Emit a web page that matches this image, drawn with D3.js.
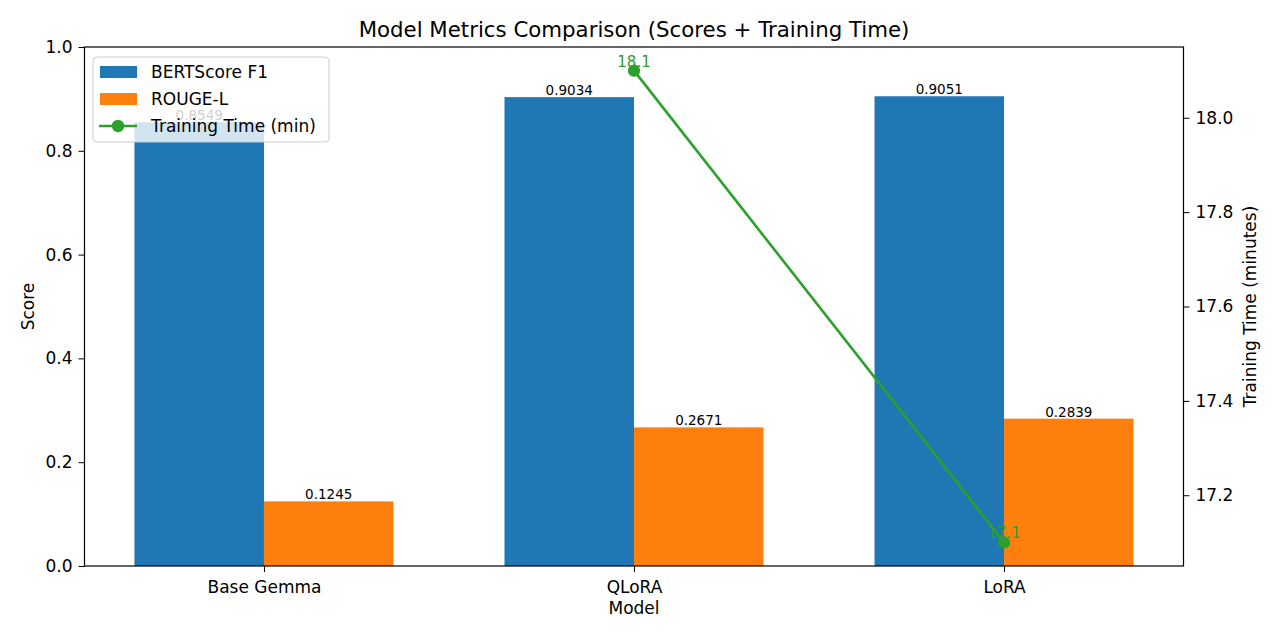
<!DOCTYPE html>
<html>
<head>
<meta charset="utf-8">
<script src="https://cdn.jsdelivr.net/npm/d3@7"></script>
<style>
  body { margin: 0; background: #fff; }
  svg { font-family: "DejaVu Sans", sans-serif; }
  .tick text { font-family: "DejaVu Sans", sans-serif; font-size: 17px; fill: #000; }
  .tick line { stroke: #000; }
  .domain { stroke: none; }
</style>
</head>
<body>
<div id="chart"></div>
<script>
// values
const models = ['Base Gemma', 'QLoRA', 'LoRA']
const bertScore = [0.8549, 0.9034, 0.9051]
const rougeL = [0.1245, 0.2671, 0.2839]
const trainingTime = [null, 18.1, 17.1]
const scoreTicks = [0.0, 0.2, 0.4, 0.6, 0.8, 1.0]
const timeTicks = [17.2, 17.4, 17.6, 17.8, 18.0]

const width = 1280, height = 640
const plotL = 84.5, plotR = 1183.5, plotT = 47, plotB = 566
const barW = 0.35

const blue = '#1f77b4', orange = '#ff7f0e', green = '#2ca02c'

const svg = d3.select('#chart').append('svg')
    .attr('width', width)
    .attr('height', height)

// x is numeric like matplotlib: category index, 5% margin around the bars
const x = d3.scaleLinear()
    .domain([-barW - 0.135, models.length - 1 + barW + 0.135])
    .range([plotL, plotR])

const y = d3.scaleLinear().domain([0, 1]).range([plotB, plotT])

const y2 = d3.scaleLinear().domain([17.05, 18.15]).range([plotB, plotT])

const bars = svg.append('g')

bars.selectAll('.bert')
    .data(bertScore)
    .enter()
    .append('rect')
    .attr('x', (d, i) => x(i - barW))
    .attr('y', d => y(d))
    .attr('width', x(barW) - x(0))
    .attr('height', d => y(0) - y(d))
    .attr('fill', blue)

bars.selectAll('.rouge')
    .data(rougeL)
    .enter()
    .append('rect')
    .attr('x', (d, i) => x(i))
    .attr('y', d => y(d))
    .attr('width', x(barW) - x(0))
    .attr('height', d => y(0) - y(d))
    .attr('fill', orange)

// bar value labels
const labels = svg.append('g')
    .attr('font-size', 13.5)
    .attr('text-anchor', 'middle')

labels.selectAll('.bl')
    .data(bertScore)
    .enter()
    .append('text')
    .attr('x', (d, i) => x(i - barW / 2))
    .attr('y', d => y(d) - 2)
    .text(d => d.toFixed(4))

labels.selectAll('.rl')
    .data(rougeL)
    .enter()
    .append('text')
    .attr('x', (d, i) => x(i + barW / 2))
    .attr('y', d => y(d) - 2)
    .text(d => d.toFixed(4))

// training time line on the twin axis
const pts = trainingTime.map((v, i) => ({ i, v })).filter(d => d.v != null)

const line = d3.line()
    .x(d => x(d.i))
    .y(d => y2(d.v))

svg.append('path')
    .datum(pts)
    .attr('d', line)
    .attr('fill', 'none')
    .attr('stroke', green)
    .attr('stroke-width', 2.6)

svg.selectAll('.pt')
    .data(pts)
    .enter()
    .append('circle')
    .attr('cx', d => x(d.i))
    .attr('cy', d => y2(d.v))
    .attr('r', 6.2)
    .attr('fill', green)

svg.selectAll('.ptl')
    .data(pts)
    .enter()
    .append('text')
    .attr('x', d => x(d.i))
    .attr('y', d => y2(d.v) - 4)
    .attr('text-anchor', 'middle')
    .attr('font-size', 15)
    .attr('fill', green)
    .text(d => d.v.toFixed(1))

// axes
svg.append('g')
    .attr('transform', `translate(0,${plotB})`)
    .call(d3.axisBottom(x).tickValues(d3.range(models.length)).tickFormat(i => models[i])
        .tickSize(6).tickPadding(6))
    .selectAll('text').attr('dy', '0.9em')

svg.append('g')
    .attr('transform', `translate(${plotL},0)`)
    .call(d3.axisLeft(y).tickValues(scoreTicks).tickFormat(d3.format('.1f'))
        .tickSize(6).tickPadding(6))

svg.append('g')
    .attr('transform', `translate(${plotR},0)`)
    .call(d3.axisRight(y2).tickValues(timeTicks).tickFormat(d3.format('.1f'))
        .tickSize(6).tickPadding(6))

// frame
svg.append('rect')
    .attr('x', plotL)
    .attr('y', plotT)
    .attr('width', plotR - plotL)
    .attr('height', plotB - plotT)
    .attr('fill', 'none')
    .attr('stroke', '#000')
    .attr('stroke-width', 1.2)

// titles
svg.append('text')
    .attr('x', (plotL + plotR) / 2)
    .attr('y', 37)
    .attr('text-anchor', 'middle')
    .attr('font-size', 21.3)
    .text('Model Metrics Comparison (Scores + Training Time)')

svg.append('text')
    .attr('x', (plotL + plotR) / 2)
    .attr('y', 614)
    .attr('text-anchor', 'middle')
    .attr('font-size', 17)
    .text('Model')

svg.append('text')
    .attr('transform', `translate(34,${(plotT + plotB) / 2}) rotate(-90)`)
    .attr('text-anchor', 'middle')
    .attr('font-size', 17)
    .text('Score')

svg.append('text')
    .attr('transform', `translate(1256,${(plotT + plotB) / 2}) rotate(-90)`)
    .attr('text-anchor', 'middle')
    .attr('font-size', 17)
    .text('Training Time (minutes)')

// legend
const legend = svg.append('g')
    .attr('transform', 'translate(93,57)')

legend.append('rect')
    .attr('width', 236)
    .attr('height', 85)
    .attr('rx', 4)
    .attr('fill', 'rgba(255,255,255,0.8)')
    .attr('stroke', '#cccccc')

const legendItems = [
    { name: 'BERTScore F1', color: blue, type: 'bar' },
    { name: 'ROUGE-L', color: orange, type: 'bar' },
    { name: 'Training Time (min)', color: green, type: 'line' }
]

legendItems.forEach((d, i) => {
    const gy = 15 + i * 27
    if (d.type === 'bar') {
        legend.append('rect')
            .attr('x', 7).attr('y', gy - 6)
            .attr('width', 37).attr('height', 12)
            .attr('fill', d.color)
    } else {
        legend.append('line')
            .attr('x1', 6).attr('x2', 44)
            .attr('y1', gy).attr('y2', gy)
            .attr('stroke', d.color).attr('stroke-width', 2.6)
        legend.append('circle')
            .attr('cx', 25).attr('cy', gy).attr('r', 6.2)
            .attr('fill', d.color)
    }
    legend.append('text')
        .attr('x', 58)
        .attr('y', gy + 6)
        .attr('font-size', 17)
        .text(d.name)
})
</script>
</body>
</html>
